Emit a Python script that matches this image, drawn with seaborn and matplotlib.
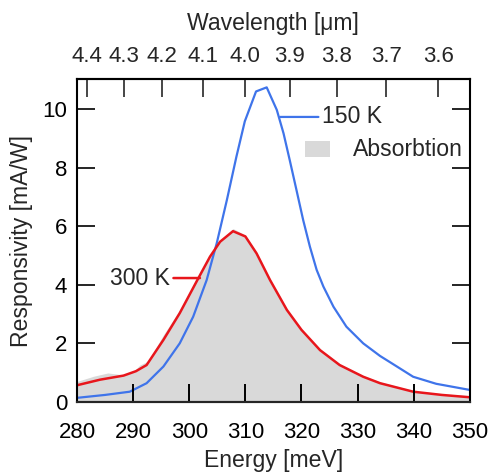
import numpy as np
import pandas as pd
import matplotlib
matplotlib.use("Agg")
import matplotlib.pyplot as plt
import seaborn as sns

# Data
e_150 = [280, 285, 289.4, 292.4, 295.4, 298.3, 300.7, 303.1, 304.9, 306.7, 308.4, 309.9,
         311.9, 313.8, 315.6, 316.8, 317.9, 319.1, 320.3, 321.5, 322.7, 323.9, 325.7,
         328.0, 331.0, 334.0, 336.0, 339.9, 344.0, 350]
r_150 = [0.14, 0.24, 0.35, 0.64, 1.21, 2.0, 2.91, 4.16, 5.42, 6.89, 8.37, 9.58,
         10.6, 10.74, 9.97, 9.17, 8.26, 7.24, 6.21, 5.30, 4.51, 3.94, 3.25,
         2.57, 2.0, 1.57, 1.33, 0.86, 0.62, 0.41]

e_300 = [280, 284.1, 288.3, 290.5, 292.4, 295.4, 298.3, 301.3, 303.7, 305.5, 307.8, 310.0,
         312.0, 314.4, 317.4, 320.0, 323.3, 326.8, 331.0, 334.0, 339.9, 345.0, 350]
r_300 = [0.57, 0.76, 0.90, 1.05, 1.26, 2.12, 3.03, 4.11, 4.96, 5.47, 5.83, 5.65,
         5.07, 4.16, 3.14, 2.46, 1.77, 1.26, 0.86, 0.64, 0.35, 0.24, 0.16]

e_abs = [280, 283, 285.5, 288, 290, 291.2, 292.7, 295.4, 298.3, 301.3, 303.7, 305.5, 307.8,
         310.0, 312.0, 314.4, 317.4, 320.0, 323.3, 326.8, 331.0, 334.0, 339.9, 345.0, 350]
a_abs = [0.70, 0.88, 0.99, 0.93, 1.02, 1.26, 1.40, 2.29, 3.14, 4.2, 5.02, 5.52, 5.92,
         5.70, 5.11, 4.2, 3.18, 2.5, 1.81, 1.30, 0.9, 0.68, 0.39, 0.28, 0.21]

wl_ticks = [4.4, 4.3, 4.2, 4.1, 4.0, 3.9, 3.8, 3.7, 3.6]
x_ticks = [280, 290, 300, 310, 320, 330, 340, 350]
y_ticks = [0, 2, 4, 6, 8, 10]

sns.set_style("ticks", {'xtick.direction': 'in', 'ytick.direction': 'in',
                        'xtick.bottom': True, 'ytick.left': True})
plt.rcParams['font.family'] = ['Liberation Sans', 'DejaVu Sans']
FS_T = 16
FS_L = 16.6

gray = '#d9d9d9'
blue = '#3f74ea'
red = '#e8161c'

fig = plt.figure(figsize=(4.92, 4.74), dpi=100)
ax = fig.add_axes([0.1565, 0.152, 0.7985, 0.681])

ax.fill_between(e_abs, a_abs, 0, color=gray, lw=0, zorder=1)
sns.lineplot(x=e_150, y=r_150, ax=ax, color=blue, lw=1.6, zorder=3)
sns.lineplot(x=e_300, y=r_300, ax=ax, color=red, lw=1.8, zorder=4)

ax.set_xlim(280, 350)
ax.set_ylim(0, 11.02)
ax.set_xticks(x_ticks)
ax.set_yticks(y_ticks)
ax.tick_params(direction='in', length=13, width=1.2, labelsize=FS_T, colors='black',
               right=True, left=True, bottom=True, top=False)
ax.tick_params(axis='x', pad=14.5)
ax.tick_params(axis='y', pad=7)
for s in ax.spines.values():
    s.set_linewidth(1.5)
    s.set_color('black')
    s.set_zorder(6)
ax.set_axisbelow(False)
ax.xaxis.set_zorder(5)
ax.yaxis.set_zorder(5)

# top wavelength axis
sec = ax.secondary_xaxis('top', functions=(lambda E: 1239.84 / np.asarray(E, float),
                                           lambda l: 1239.84 / np.asarray(l, float)))
sec.set_xticks(wl_ticks)
sec.set_xticklabels([f'{w:.1f}' for w in wl_ticks])
sec.tick_params(direction='in', length=13, width=1.2, labelsize=FS_T, pad=9)
sec.spines['top'].set_linewidth(1.5)

# bottom tick marks drawn on a companion axis above the fill
bot = ax.secondary_xaxis('bottom', functions=(lambda E: np.asarray(E, float),
                                              lambda E: np.asarray(E, float)))
bot.set_xticks(x_ticks)
bot.tick_params(direction='in', length=13, width=1.2, colors='black',
                labelbottom=False, bottom=True)
bot.spines['bottom'].set_linewidth(1.5)
bot.set_zorder(10)

# annotations
ax.annotate('150 K', xy=(316.2, 9.73), xytext=(323.6, 9.73), fontsize=FS_L,
            va='center', ha='left',
            arrowprops=dict(arrowstyle='-', color=blue, lw=1.6, shrinkA=0, shrinkB=0))
ax.annotate('300 K', xy=(301.9, 4.23), xytext=(296.6, 4.23), fontsize=FS_L,
            va='center', ha='right',
            arrowprops=dict(arrowstyle='-', color=red, lw=1.8, shrinkA=0, shrinkB=0))
ax.add_patch(plt.Rectangle((320.6, 8.36), 4.5, 0.55, color=gray, lw=0, zorder=2))
ax.text(329.2, 8.63, 'Absorbtion', fontsize=FS_L, va='center', ha='left')

ax.set_xlabel('Energy [meV]', fontsize=FS_L, labelpad=4)
ax.set_ylabel('Responsivity [mA/W]', fontsize=FS_L, labelpad=7)
sec.set_xlabel('Wavelength [\u03bcm]', fontsize=FS_L, labelpad=11)

fig.savefig('out.png', dpi=100)
